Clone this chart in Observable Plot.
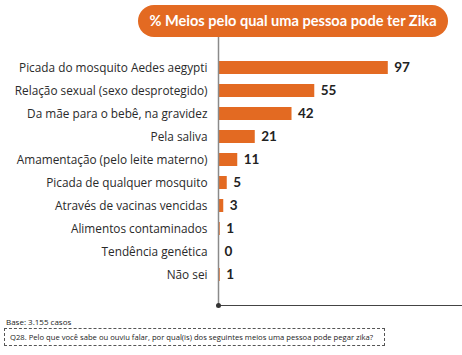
<!DOCTYPE html>
<html>
<head>
<meta charset="utf-8">
<script src="https://cdn.jsdelivr.net/npm/d3@7"></script>
<script src="https://cdn.jsdelivr.net/npm/@observablehq/plot@0.6"></script>
<style>
  body { margin: 0; background: #fff; font-family: "Open Sans", Lato, sans-serif; }
  #wrap { position: relative; width: 462px; height: 355px; overflow: hidden; }
  #title { position: absolute; left: 138px; top: 5px; width: 310px; height: 32px; border-radius: 16px;
    background: #E36A22; color: #fff; font-weight: bold; font-size: 14.6px; line-height: 32px; text-align: center;
    font-family: Lato, sans-serif; }
  #chart { position: absolute; left: 0; top: 0; }
  #base { position: absolute; left: 6px; top: 316px; font-size: 8px; color: #222; font-family: "Open Sans", sans-serif; }
  #q { position: absolute; left: 4px; top: 328px; width: 381px; height: 18px; border: 1px dashed #555;
    font-size: 7.65px; line-height: 16px; padding-left: 5px; color: #222; box-sizing: border-box; font-family: "Open Sans", sans-serif; white-space: nowrap; }
</style>
</head>
<body>
<div id="wrap">
  <div id="chart"></div>
  <div id="title">% Meios pelo qual uma pessoa pode ter Zika</div>
  <div id="base">Base: 3.155 casos</div>
  <div id="q">Q28. Pelo que você sabe ou ouviu falar, por qual(is) dos seguintes meios uma pessoa pode pegar zika?</div>
</div>
<script>
const categories = [
  "Picada do mosquito Aedes aegypti",
  "Relação sexual (sexo desprotegido)",
  "Da mãe para o bebê, na gravidez",
  "Pela saliva",
  "Amamentação (pelo leite materno)",
  "Picada de qualquer mosquito",
  "Através de vacinas vencidas",
  "Alimentos contaminados",
  "Tendência genética",
  "Não sei"
];
const values = [97, 55, 42, 21, 11, 5, 3, 1, 0, 1];

const data = categories.map((c, i) => ({category: c, value: values[i]}));

const plot = Plot.plot({
  width: 462,
  height: 312,
  marginLeft: 218,
  marginRight: 0,
  marginTop: 37,
  marginBottom: 7,
  style: {fontFamily: "'Open Sans', Lato, sans-serif", background: "transparent"},
  x: {domain: [0, 139.4], axis: null},
  y: {domain: categories, paddingInner: 0.42, paddingOuter: 0.8, label: null, tickSize: 0, tickPadding: 11},
  marks: [
    Plot.barX(data, {x: "value", y: "category", fill: "#E36A22"}),
    Plot.text(data, {x: "value", y: "category", text: d => String(d.value), dx: 6, textAnchor: "start",
      fontSize: 13.5, fontWeight: "bold", fill: "#222", fontFamily: "Lato, sans-serif"}),
    Plot.ruleX([0], {stroke: "#8a8a8a", strokeWidth: 1.5}),
    Plot.frame({anchor: "bottom", stroke: "#444", strokeWidth: 1.2}),
    Plot.dot([0], {x: d => d, frameAnchor: "bottom", r: 2.5, fill: "#333"})
  ]
});
const yAxis = plot.querySelector('g[aria-label="y-axis tick label"]');
if (yAxis) {
  yAxis.setAttribute("font-size", "11.8");
  yAxis.setAttribute("fill", "#2a2a2a");
  yAxis.querySelectorAll("text").forEach(t => { t.setAttribute("font-size", "11.8"); t.setAttribute("fill", "#2a2a2a"); });
}
document.getElementById("chart").appendChild(plot);
</script>
</body>
</html>
